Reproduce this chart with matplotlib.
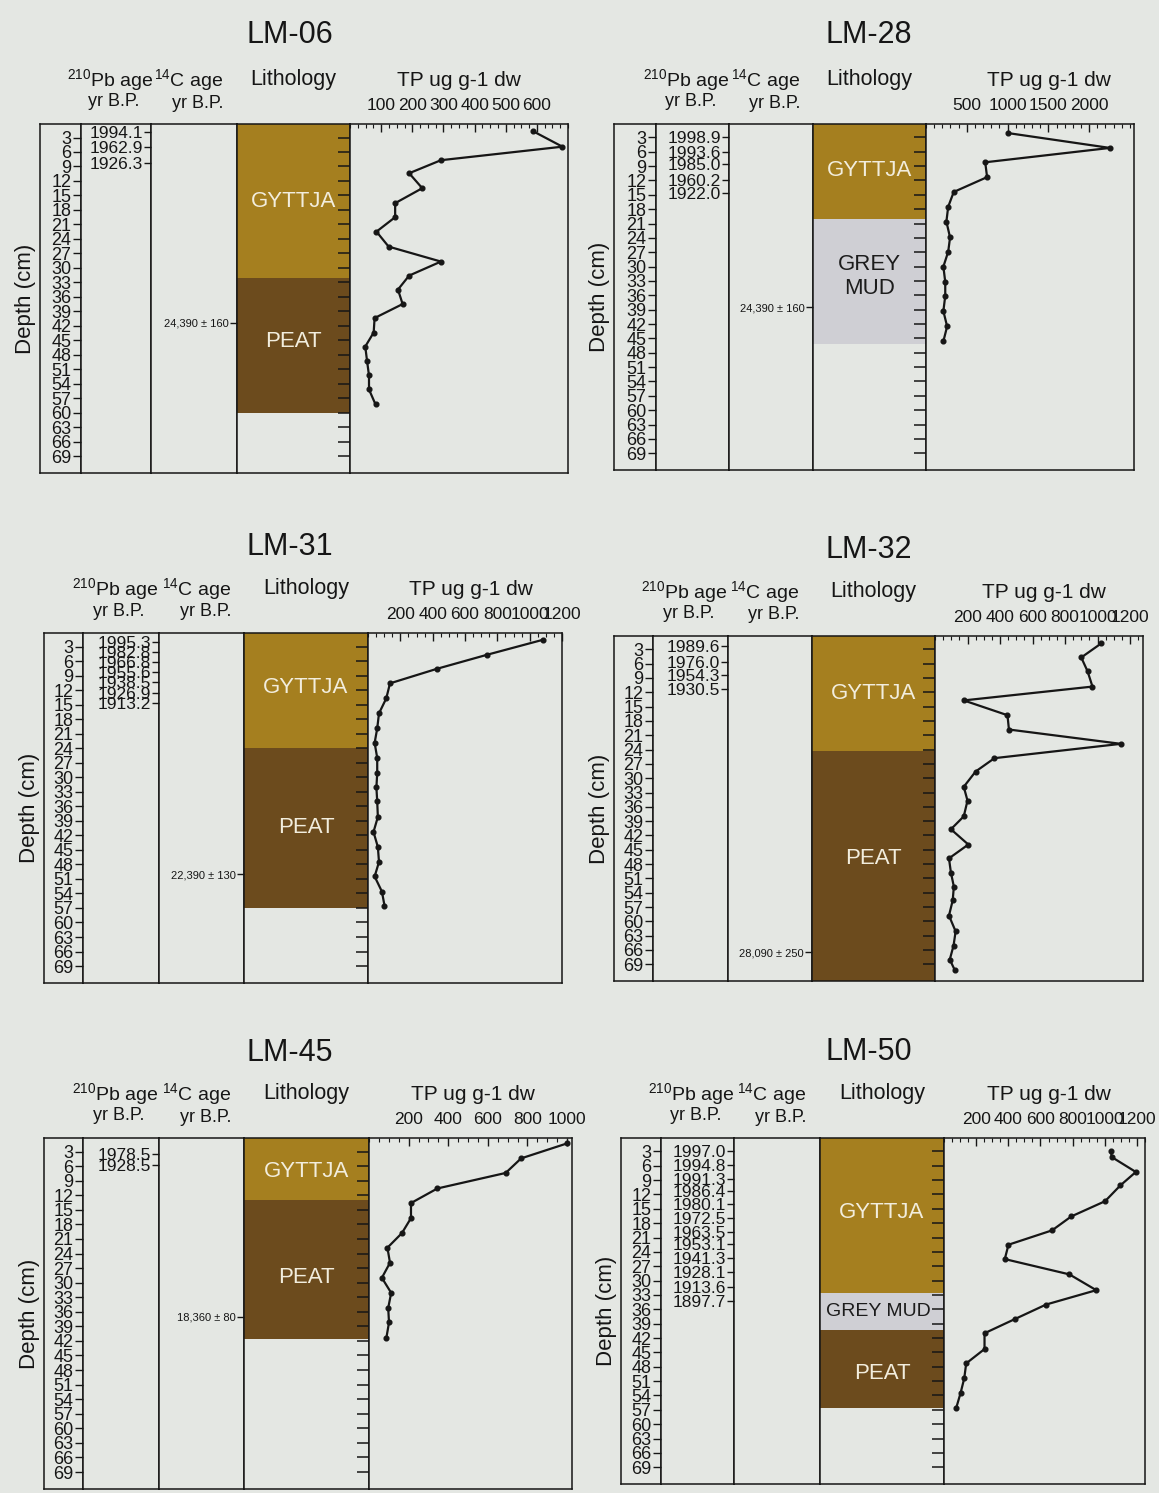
import matplotlib.pyplot as plt
from matplotlib.ticker import MultipleLocator
from matplotlib.transforms import blended_transform_factory

plt.rcParams['font.family'] = ['Liberation Sans', 'DejaVu Sans']
plt.rcParams['mathtext.default'] = 'regular'

W, H = 1159, 1493
BG = '#e4e7e3'
INK = '#161616'
FILL = {'GYTTJA': '#a57f1f', 'PEAT': '#6c4b1d', 'GREY MUD': '#cfcfd4'}
LABEL_COLOR = {'GYTTJA': '#f2eddd', 'PEAT': '#f2eddd', 'GREY MUD': '#1c1c1c'}

DEPTH_TICKS = list(range(3, 70, 3))
DEPTH_TOP, DEPTH_BOTTOM = 0.2, 72.5

# ---- LM-06 ----
LM06_TP_DEPTH = [1.7, 4.9, 7.7, 10.4, 13.5, 16.6, 19.5, 22.5, 25.6, 28.7,
                 31.6, 34.5, 37.5, 40.4, 43.4, 46.3, 49.4, 52.3, 55.2, 58.3]
LM06_TP = [588, 682, 292, 190, 232, 145, 145, 85, 124, 292,
           190, 154, 169, 79, 76, 49, 55, 61, 61, 82]
LM06_PB_DEPTH = [1.8, 4.9, 8.2]
LM06_PB_AGE = ['1994.1', '1962.9', '1926.3']
LM06_C_DEPTH = [41.4]
LM06_C_AGE = ['24,390 ± 160']
LM06_UNITS = [('GYTTJA', 0, 32.2), ('PEAT', 32.2, 60.0)]
LM06_UNIT_LABELS = [('GYTTJA', 'GYTTJA', 16.3), ('PEAT', 'PEAT', 45.2)]

# ---- LM-28 ----
LM28_TP_DEPTH = [2.1, 5.2, 8.2, 11.3, 14.4, 17.5, 20.6, 23.9, 26.9, 30.0,
                 33.2, 36.1, 39.3, 42.5, 45.6]
LM28_TP = [1007, 2255, 726, 749, 340, 272, 250, 295, 272, 213,
           236, 236, 213, 259, 213]
LM28_PB_DEPTH = [3.0, 6.1, 8.5, 11.8, 14.6]
LM28_PB_AGE = ['1998.9', '1993.6', '1985.0', '1960.2', '1922.0']
LM28_C_DEPTH = [38.5]
LM28_C_AGE = ['24,390 ± 160']
LM28_UNITS = [('GYTTJA', 0, 20.0), ('GREY MUD', 20.0, 46.2)]
LM28_UNIT_LABELS = [('GYTTJA', 'GYTTJA', 9.9), ('GREY MUD', 'GREY\nMUD', 32.1)]

# ---- LM-31 ----
LM31_TP_DEPTH = [1.6, 4.7, 7.6, 10.6, 13.7, 16.8, 19.9, 22.9, 26.0, 29.1,
                 32.1, 35.0, 38.2, 41.3, 44.4, 47.5, 50.5, 53.6, 56.5]
LM31_TP = [1082, 736, 426, 136, 113, 68, 57, 41, 57, 57,
           52, 57, 61, 34, 61, 68, 41, 86, 102]
LM31_PB_DEPTH = [2.1, 4.2, 6.2, 8.3, 10.4, 12.5, 14.6]
LM31_PB_AGE = ['1995.3', '1982.8', '1966.8', '1955.6', '1938.5', '1926.9', '1913.2']
LM31_C_DEPTH = [50.0]
LM31_C_AGE = ['22,390 ± 130']
LM31_UNITS = [('GYTTJA', 0, 23.9), ('PEAT', 23.9, 57.1)]
LM31_UNIT_LABELS = [('GYTTJA', 'GYTTJA', 11.5), ('PEAT', 'PEAT', 40.4)]

# ---- LM-32 ----
LM32_TP_DEPTH = [1.75, 4.7, 7.6, 10.8, 13.7, 16.8, 19.8, 22.8, 25.8, 28.6,
                 31.8, 34.7, 38.0, 40.7, 43.9, 46.8, 49.8, 52.7, 55.6, 58.8,
                 62.1, 65.1, 68.0, 70.1]
LM32_TP = [1023, 900, 939, 969, 177, 446, 455, 1144, 366, 250,
           177, 200, 177, 98, 205, 86, 98, 116, 109, 86,
           127, 114, 91, 120]
LM32_PB_DEPTH = [2.4, 5.6, 8.3, 11.4]
LM32_PB_AGE = ['1989.6', '1976.0', '1954.3', '1930.5']
LM32_C_DEPTH = [66.5]
LM32_C_AGE = ['28,090 ± 250']
LM32_UNITS = [('GYTTJA', 0, 24.2), ('PEAT', 24.2, 80.0)]
LM32_UNIT_LABELS = [('GYTTJA', 'GYTTJA', 12.3), ('PEAT', 'PEAT', 46.8)]

# ---- LM-45 ----
LM45_TP_DEPTH = [1.3, 4.4, 7.4, 10.6, 13.6, 16.7, 19.8, 22.8, 25.9, 29.0,
                 32.1, 35.2, 38.2, 41.3]
LM45_TP = [1001, 768, 690, 345, 212, 212, 166, 93, 106, 65,
           112, 97, 101, 88]
LM45_PB_DEPTH = [3.5, 5.8]
LM45_PB_AGE = ['1978.5', '1928.5']
LM45_C_DEPTH = [37.0]
LM45_C_AGE = ['18,360 ± 80']
LM45_UNITS = [('GYTTJA', 0, 12.9), ('PEAT', 12.9, 41.5)]
LM45_UNIT_LABELS = [('GYTTJA', 'GYTTJA', 7.0), ('PEAT', 'PEAT', 29.0)]

# ---- LM-50 ----
LM50_TP_DEPTH = [3.0, 4.2, 7.3, 10.1, 13.4, 16.6, 19.5, 22.5, 25.5, 28.7,
                 32.0, 35.0, 38.0, 41.0, 44.3, 47.3, 50.4, 53.5, 56.6]
LM50_TP = [1037, 1044, 1193, 1097, 1002, 791, 672, 401, 378, 780,
           947, 635, 443, 252, 252, 138, 126, 103, 76]
LM50_PB_DEPTH = [3.0, 5.8, 8.7, 11.3, 13.9, 16.9, 19.8, 22.4, 25.3, 28.3, 31.3, 34.3]
LM50_PB_AGE = ['1997.0', '1994.8', '1991.3', '1986.4', '1980.1', '1972.5',
               '1963.5', '1953.1', '1941.3', '1928.1', '1913.6', '1897.7']
LM50_C_DEPTH = []
LM50_C_AGE = []
LM50_UNITS = [('GYTTJA', 0, 32.5), ('GREY MUD', 32.5, 40.3), ('PEAT', 40.3, 56.6)]
LM50_UNIT_LABELS = [('GYTTJA', 'GYTTJA', 15.8), ('GREY MUD', 'GREY MUD', 36.4),
                    ('PEAT', 'PEAT', 49.4)]

# core, data, box in pixels (left, 4 column dividers, right, top, bottom),
# TP axis range / ticks, title x, title y, TP heading shift
CORES = [
    ('LM-06', (LM06_TP_DEPTH, LM06_TP, LM06_PB_DEPTH, LM06_PB_AGE, LM06_C_DEPTH, LM06_C_AGE, LM06_UNITS, LM06_UNIT_LABELS),
     (40, 81, 151, 237, 350, 568, 124, 473), (0, 700), [100, 200, 300, 400, 500, 600], 25, 290, 35, 0),
    ('LM-28', (LM28_TP_DEPTH, LM28_TP, LM28_PB_DEPTH, LM28_PB_AGE, LM28_C_DEPTH, LM28_C_AGE, LM28_UNITS, LM28_UNIT_LABELS),
     (614, 656, 729, 813, 926, 1134, 124, 470), (0, 2550), [500, 1000, 1500, 2000], 100, 869, 35, 19),
    ('LM-31', (LM31_TP_DEPTH, LM31_TP, LM31_PB_DEPTH, LM31_PB_AGE, LM31_C_DEPTH, LM31_C_AGE, LM31_UNITS, LM31_UNIT_LABELS),
     (44, 83, 159, 244, 368, 562, 633, 983), (0, 1200), [200, 400, 600, 800, 1000, 1200], 50, 290, 547, 6),
    ('LM-32', (LM32_TP_DEPTH, LM32_TP, LM32_PB_DEPTH, LM32_PB_AGE, LM32_C_DEPTH, LM32_C_AGE, LM32_UNITS, LM32_UNIT_LABELS),
     (614, 653, 728, 812, 935, 1143, 636, 981), (0, 1280), [200, 400, 600, 800, 1000, 1200], 50, 869, 550, 5),
    ('LM-45', (LM45_TP_DEPTH, LM45_TP, LM45_PB_DEPTH, LM45_PB_AGE, LM45_C_DEPTH, LM45_C_AGE, LM45_UNITS, LM45_UNIT_LABELS),
     (44, 83, 159, 244, 369, 572, 1138, 1489), (0, 1025), [200, 400, 600, 800, 1000], 50, 290, 1053, 2),
    ('LM-50', (LM50_TP_DEPTH, LM50_TP, LM50_PB_DEPTH, LM50_PB_AGE, LM50_C_DEPTH, LM50_C_AGE, LM50_UNITS, LM50_UNIT_LABELS),
     (621, 661, 734, 820, 944, 1145, 1138, 1484), (0, 1250), [200, 400, 600, 800, 1000, 1200], 50, 869, 1052, 4),
]

fig = plt.figure(figsize=(W / 100, H / 100), dpi=100)
fig.patch.set_facecolor(BG)


def ptext(x, y, s, **kw):
    # text placed in page pixels (origin top-left)
    kw.setdefault('ha', 'center')
    kw.setdefault('va', 'center')
    kw.setdefault('color', INK)
    return fig.text(x / W, 1 - y / H, s, **kw)


def draw_core(name, data, box, xlim, xmajor, xminor, title_x, title_y, tp_dx):
    tp_depth, tp, pb_depth, pb_age, c_depth, c_age, units, unit_labels = data
    x0, d1, d2, d3, d4, x1, top, bot = box
    edges = [x0, d1, d2, d3, d4, x1]
    axes = []
    for a, b in zip(edges[:-1], edges[1:]):
        ax = fig.add_axes([a / W, 1 - bot / H, (b - a) / W, (bot - top) / H])
        ax.set_facecolor(BG)
        ax.set_ylim(DEPTH_BOTTOM, DEPTH_TOP)
        ax.set_xticks([])
        ax.set_yticks([])
        for sp in ax.spines.values():
            sp.set_linewidth(1.1)
            sp.set_color(INK)
        axes.append(ax)
    ax_d, ax_pb, ax_c, ax_l, ax_tp = axes

    ax_d.set_ylabel('Depth (cm)', fontsize=16, labelpad=3, color=INK)

    # depth scale sits on the left edge of the 210Pb column
    ax_pb.set_yticks(DEPTH_TICKS)
    ax_pb.set_yticklabels([str(d) for d in DEPTH_TICKS])
    ax_pb.tick_params(axis='y', direction='out', length=6, width=1, pad=1,
                      labelsize=13, colors=INK)

    # 210Pb dates sit on the left edge of the 14C column
    ax_c.set_yticks(pb_depth)
    ax_c.set_yticklabels(pb_age)
    ax_c.tick_params(axis='y', direction='out', length=5, width=1, pad=1,
                     labelsize=12.5, colors=INK)

    # 14C dates sit on the left edge of the lithology column
    ax_l.set_yticks(c_depth)
    ax_l.set_yticklabels(c_age)
    ax_l.tick_params(axis='y', direction='out', length=5, width=1, pad=1,
                     labelsize=8, colors=INK)

    for unit, a, b in units:
        ax_l.axhspan(a, b, color=FILL[unit], lw=0)
    tr = blended_transform_factory(ax_l.transAxes, ax_l.transData)
    for unit, label, d in unit_labels:
        fs = 14 if label == 'GREY MUD' else 16
        ax_l.text(0.47 if label == 'GREY MUD' else 0.5, d, label, transform=tr,
                  ha='center', va='center', fontsize=fs,
                  color=LABEL_COLOR[unit], linespacing=1.15)

    # lithology depth ticks sit on the left edge of the TP column
    ax_tp.set_yticks(DEPTH_TICKS)
    ax_tp.tick_params(axis='y', direction='out', length=9, width=1.1,
                      labelleft=False, colors=INK)
    ax_tp.set_xlim(*xlim)
    ax_tp.xaxis.tick_top()
    ax_tp.set_xticks(xmajor)
    ax_tp.xaxis.set_minor_locator(MultipleLocator(xminor))
    ax_tp.tick_params(axis='x', which='major', direction='in', length=6,
                      width=1, pad=8, labelsize=12.5, colors=INK)
    ax_tp.tick_params(axis='x', which='minor', direction='in', length=3,
                      width=0.8, colors=INK)
    ax_tp.plot(tp, tp_depth, '-o', color=INK, lw=1.6, ms=3.4, clip_on=False,
               zorder=3)

    # headers
    cpb = (d1 + d2) / 2
    cc = (d2 + d3) / 2
    cl = (d3 + d4) / 2
    ctp = (d4 + x1) / 2
    ptext(title_x, title_y, name, fontsize=22)
    ptext(cpb - 6, top - 44, r'$^{210}$Pb age', fontsize=14)
    ptext(cpb - 2, top - 22, 'yr B.P.', fontsize=13)
    ptext(cc - 5, top - 44, r'$^{14}$C age', fontsize=14)
    ptext(cc + 4, top - 21, 'yr B.P.', fontsize=13)
    ptext(cl, top - 44, 'Lithology', fontsize=15.5)
    ptext(ctp + tp_dx, top - 43, 'TP ug g-1 dw', fontsize=15)


for name, data, box, xlim, xmajor, xminor, title_x, title_y, tp_dx in CORES:
    draw_core(name, data, box, xlim, xmajor, xminor, title_x, title_y, tp_dx)

fig.savefig('out.png', dpi=100, facecolor=BG)
